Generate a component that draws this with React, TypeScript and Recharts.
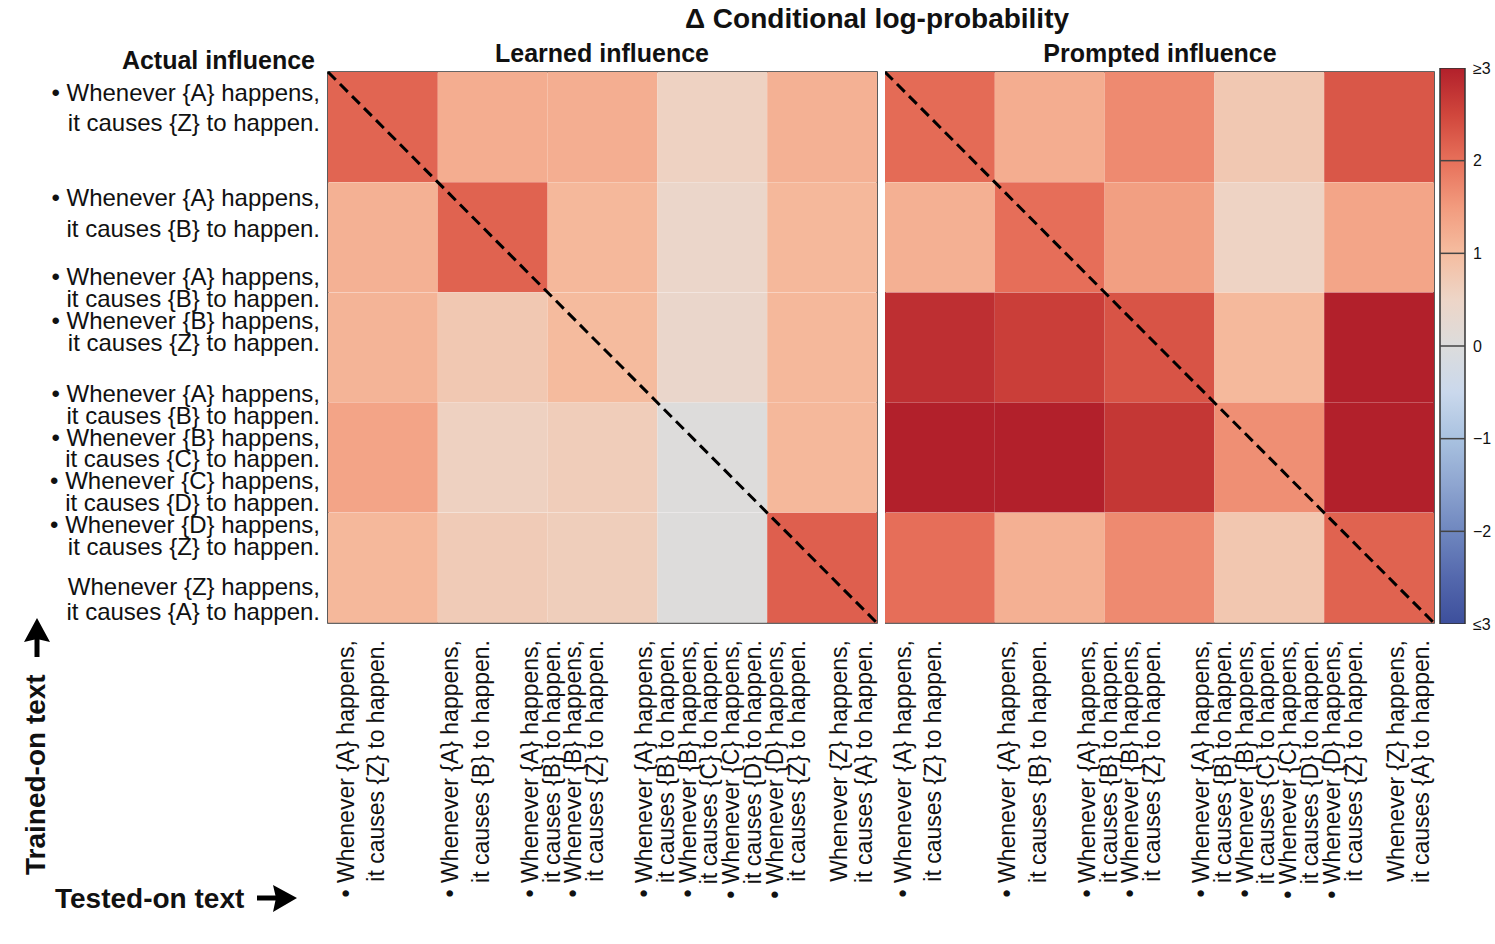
import React from "react";
import { BarChart, Bar, XAxis, YAxis, Cell, ReferenceLine, ReferenceArea } from "recharts";

// text labels (rows = trained-on, columns = tested-on, same order)
const rowLabels: string[][] = [
  ["• Whenever {A} happens,", "it causes {Z} to happen."],
  ["• Whenever {A} happens,", "it causes {B} to happen."],
  [
    "• Whenever {A} happens,", "it causes {B} to happen.",
    "• Whenever {B} happens,", "it causes {Z} to happen.",
  ],
  [
    "• Whenever {A} happens,", "it causes {B} to happen.",
    "• Whenever {B} happens,", "it causes {C} to happen.",
    "• Whenever {C} happens,", "it causes {D} to happen.",
    "• Whenever {D} happens,", "it causes {Z} to happen.",
  ],
  ["Whenever {Z} happens,", "it causes {A} to happen."],
];
const colLabels = rowLabels;
const cellCenters = [0.5, 1.5, 2.5, 3.5, 4.5];

// Δ conditional log-probability, rows x cols
const learned: number[][] = [
  [2.13, 1.24, 1.22, 0.56, 1.18],
  [1.18, 2.16, 1.07, 0.43, 1.07],
  [1.13, 0.77, 1.03, 0.4, 1.07],
  [1.37, 0.58, 0.67, 0.03, 1.07],
  [1.07, 0.71, 0.65, 0.03, 2.2],
];
const prompted: number[][] = [
  [2.06, 1.24, 1.7, 0.77, 2.3],
  [1.19, 2.02, 1.44, 0.54, 1.35],
  [2.8, 2.6, 2.33, 1.06, 3.0],
  [3.0, 3.0, 2.7, 1.64, 3.0],
  [2.02, 1.19, 1.7, 0.8, 2.16],
];

const cbarTicks = [-3, -2, -1, 0, 1, 2, 3];
const cbarTickText = ["≤3", "−2", "−1", "0", "1", "2", "≥3"];
const cbarLines = [-2, -1, 0, 1, 2];

// colormap
const cmap: [number, string][] = [
  [-3, "#3d4f9c"], [-2.5, "#5468ad"], [-2, "#6f87bf"], [-1.5, "#8ea5d0"],
  [-1, "#a9c2e0"], [-0.5, "#cad8ec"], [0, "#dcdcdc"], [0.5, "#edd5c7"],
  [1, "#f5bda0"], [1.5, "#f29b7e"], [2, "#e7705a"], [2.5, "#d0463c"], [3, "#b2202b"],
];

function hex(c: string) {
  return [1, 3, 5].map((i) => parseInt(c.slice(i, i + 2), 16));
}
function colorFor(v: number) {
  const t = Math.max(-3, Math.min(3, v));
  for (let i = 0; i < cmap.length - 1; i++) {
    const [a, ca] = cmap[i];
    const [b, cb] = cmap[i + 1];
    if (t >= a && t <= b) {
      const f = (t - a) / (b - a);
      const A = hex(ca), B = hex(cb);
      const m = A.map((x, k) => Math.round(x + (B[k] - x) * f));
      return `rgb(${m[0]},${m[1]},${m[2]})`;
    }
  }
  return cmap[cmap.length - 1][1];
}

const FONT = "'Liberation Sans', Arial, sans-serif";
const lineGap = [30, 31, 21.7, 21.8, 25];
const labelShift = [-20, -24, -38, 12, 31];
const colShift = [-22, -27, -40, 8, 29];

function RowTick({ x, y, index }: any) {
  const lines = rowLabels[index];
  const g = lineGap[index];
  const y0 = y + labelShift[index] - (g * (lines.length - 1)) / 2;
  return (
    <text x={x} y={y0} textAnchor="end" fontFamily={FONT} fontSize={24} fill="#111">
      {lines.map((l, k) => (
        <tspan key={k} x={x} y={y0 + k * g} dominantBaseline="central">{l}</tspan>
      ))}
    </text>
  );
}

function ColTick({ x, y, index }: any) {
  const lines = colLabels[index];
  const g = lineGap[index];
  const x0 = x + colShift[index] - (g * (lines.length - 1)) / 2;
  return (
    <g>
      {lines.map((l, k) => {
        const lx = x0 + k * g;
        return (
          <text key={k} x={lx} y={y} transform={`rotate(-90, ${lx}, ${y})`} textAnchor="end"
            dominantBaseline="central" fontFamily={FONT} fontSize={23} fill="#111">
            {l}
          </text>
        );
      })}
    </g>
  );
}

function Heatmap({ values, showRows, width }: { values: number[][]; showRows: boolean; width: number }) {
  const data = values.map((_, i) => ({ y: cellCenters[i], c0: 1, c1: 1, c2: 1, c3: 1, c4: 1 }));
  return (
    <BarChart layout="vertical" width={width} height={944} data={data} barCategoryGap={0} barGap={0}
      margin={{ top: 72, right: 3, left: 0, bottom: 0 }}>
      <XAxis type="number" domain={[0, 5]} ticks={cellCenters} interval={0} allowDataOverflow
        axisLine={false} tickLine={false} tickSize={0} tickMargin={17} height={321} tick={<ColTick />} />
      <YAxis type="number" dataKey="y" domain={[0, 5]} ticks={cellCenters} interval={0}
        width={showRows ? 328 : 0} hide={!showRows} axisLine={false} allowDataOverflow
        tickLine={false} tickSize={0} tickMargin={8} tick={<RowTick />} />
      {[0, 1, 2, 3, 4].map((c) => (
        <Bar key={c} dataKey={`c${c}`} stackId="s" isAnimationActive={false}>
          {values.map((r, i) => <Cell key={i} fill={colorFor(r[c])} />)}
        </Bar>
      ))}
      <ReferenceArea x1={0} x2={5} y1={0} y2={5} fill="none" fillOpacity={0}
        stroke="#333" strokeWidth={1.6} ifOverflow="visible" />
      <ReferenceLine segment={[{ x: 0, y: 0 }, { x: 5, y: 5 }]} stroke="#000"
        strokeWidth={3} strokeDasharray="11 6" ifOverflow="visible" />
    </BarChart>
  );
}

function ColorBar() {
  const data = [{ k: "cb", v: [-3, 3] }];
  return (
    <BarChart width={65} height={944} data={data} barCategoryGap={0}
      margin={{ top: 68, right: 0, left: 10, bottom: 320 }}>
      <defs>
        <linearGradient id="cbgrad" x1="0" y1="1" x2="0" y2="0">
          {cmap.map(([v, c]) => (
            <stop key={v} offset={`${((v + 3) / 6) * 100}%`} stopColor={c} />
          ))}
        </linearGradient>
      </defs>
      <XAxis dataKey="k" hide />
      <YAxis orientation="right" type="number" domain={[-3, 3]} ticks={cbarTicks} interval={0}
        width={30} axisLine={false} tickLine={false} tickSize={0} tickMargin={8} allowDataOverflow
        tickFormatter={(v) => cbarTickText[cbarTicks.indexOf(v)]}
        tick={{ fontSize: 16, fill: "#111", fontFamily: FONT }} />
      <Bar dataKey="v" fill="url(#cbgrad)" stroke="#333" strokeWidth={1.5} isAnimationActive={false} />
      {cbarLines.map((v) => (
        <ReferenceLine key={v} y={v} stroke="#444" strokeWidth={1.5} />
      ))}
    </BarChart>
  );
}

export default function App() {
  return (
    <div style={{ position: "absolute", left: 0, top: 0, width: 1495, height: 944, background: "#fff", overflow: "hidden" }}>
      <div style={{ position: "absolute", left: 0, top: 0 }}>
        <Heatmap values={learned} showRows width={880} />
      </div>
      <div style={{ position: "absolute", left: 885, top: 0 }}>
        <Heatmap values={prompted} showRows={false} width={552} />
      </div>
      <div style={{ position: "absolute", left: 1430, top: 0 }}>
        <ColorBar />
      </div>
      <svg width={1495} height={944} style={{ position: "absolute", left: 0, top: 0, pointerEvents: "none" }}
        fontFamily={FONT} fontWeight="bold" fill="#111">
        <text x={877} y={28} textAnchor="middle" fontSize={28}>Δ Conditional log-probability</text>
        <text x={602} y={62} textAnchor="middle" fontSize={25}>Learned influence</text>
        <text x={1160} y={62} textAnchor="middle" fontSize={25}>Prompted influence</text>
        <text x={315} y={69} textAnchor="end" fontSize={25}>Actual influence</text>
        <text x={55} y={908} fontSize={28}>Tested-on text</text>
        <text x={45} y={875} fontSize={28} transform="rotate(-90, 45, 875)">Trained-on text</text>
        <path d="M257 898 H276" stroke="#000" strokeWidth={5} />
        <path d="M297 898 L273 885 L276 898 L273 912 Z" fill="#000" />
        <path d="M37 657 V638" stroke="#000" strokeWidth={5} />
        <path d="M37 618 L24 642 L37 639 L50 642 Z" fill="#000" />
      </svg>
    </div>
  );
}
